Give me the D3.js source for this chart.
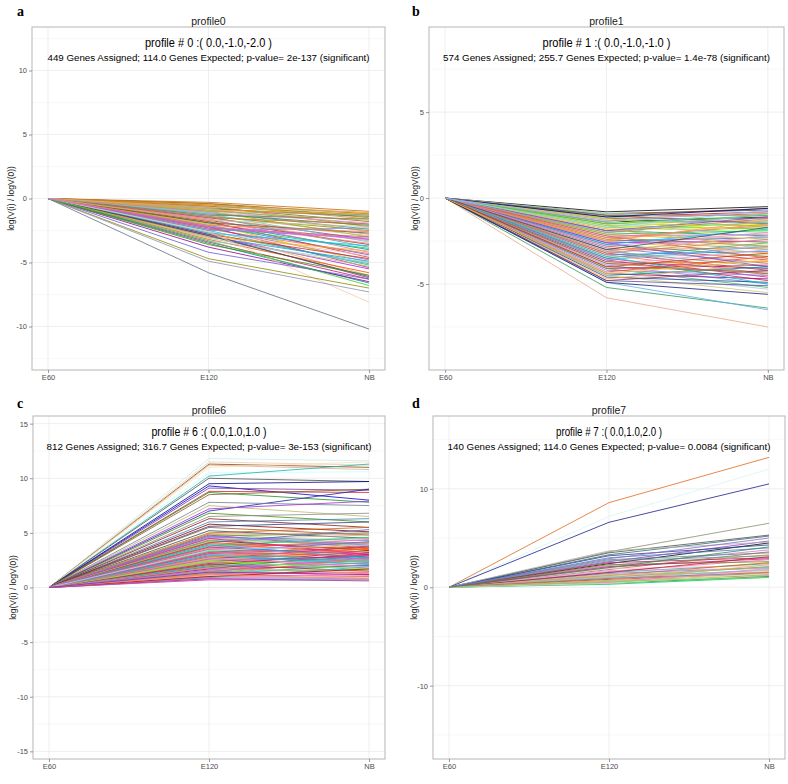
<!DOCTYPE html>
<html>
<head>
<meta charset="utf-8">
<script src="https://cdn.jsdelivr.net/npm/d3@7/dist/d3.min.js"></script>
<style>
  html,body{margin:0;padding:0;background:#fff;}
  text{font-family:"Liberation Sans",Arial,Helvetica,sans-serif;}
</style>
</head>
<body>
<svg id="chart" width="788" height="784"></svg>
<script>
// ---------------- DATA ----------------
const timepoints = ["E60", "E120", "NB"];

// profile0
const p0_E120 = [-0.3,-0.4,-0.5,-0.4,-0.6,-0.7,-0.5,-0.8,-0.9,-0.6,-1.0,-1.1,-0.8,-1.2,-1.3,-1.0,-1.4,-1.5,-1.2,-1.6,-1.7,-1.4,-1.8,-1.9,-1.6,-2.0,-2.1,-1.8,-2.2,-2.3,-2.0,-2.4,-2.5,-2.2,-2.6,-2.7,-2.4,-2.8,-2.9,-2.6,-3.0,-3.1,-2.8,-3.2,-3.3,-1.5,-1.9,-2.3,-2.7,-1.1,-0.9,-1.3,-2.5,-3.4,-3.0,-2.9,-3.5,-3.8,-3.6,-2.6,-4.2,-4.7,-4.9,-5.8,-1.7,-2.1,-0.7,-1.0,-3.3,-2.2];
const p0_NB   = [-1.0,-1.2,-1.1,-1.5,-1.3,-1.8,-1.6,-1.4,-2.0,-2.2,-1.7,-2.4,-2.6,-2.1,-2.8,-3.0,-2.5,-3.2,-3.4,-2.9,-3.6,-3.8,-3.3,-4.0,-4.2,-3.5,-4.4,-4.6,-3.9,-4.8,-5.0,-4.3,-5.2,-5.4,-4.5,-5.1,-3.1,-4.7,-5.5,-6.0,-4.9,-5.3,-6.2,-5.8,-5.0,-2.0,-2.7,-3.0,-3.7,-1.9,-1.2,-1.6,-2.3,-6.3,-4.1,-6.1,-6.6,-6.5,-6.0,-8.1,-6.3,-7.0,-7.3,-10.2,-2.2,-2.6,-1.1,-1.3,-6.8,-3.2];
const p0_colors = ["#CD6600","#8B4513","#DAA520","#B8860B","#6B8E23","#A0522D","#CD853F","#228B22","#708090","#EE7600","#9ACD32","#4682B4","#CDAF95","#2E8B57","#FF69B4","#66CD00","#8B8B00","#C71585","#40E0D0","#DEB887","#B22222","#5F9EA0","#E9967A","#008B8B","#DA70D6","#FA8072","#4169E1","#CD3333","#00CD66","#8968CD","#CDCD00","#FF6347","#20B2AA","#B03060","#FFB6C1","#3CB371","#9370DB","#CD2626","#A020F0","#F4A460","#1E90FF","#BDB76B","#7A378B","#FF4500","#87CEEB","#D2691E","#556B2F","#CD5C5C","#00BFFF","#DDA0DD","#FFA500","#8B7355","#6495ED","#CD1076","#EEB422","#2F4F4F","#00868B","#8B008B","#458B00","#F5CBA7","#6A5ACD","#8B8B00","#8E8EB0","#607080","#CDC673","#FF7F50","#D2B48C","#BC8F8F","#32CD32","#E066FF"];

// profile1
const p1_E120 = [-5.8,-5.2,-4.9,-0.8,-0.9,-1.0,-1.0,-1.1,-1.2,-1.2,-1.3,-1.4,-1.5,-1.5,-1.6,-1.7,-1.7,-1.8,-1.9,-1.9,-2.0,-2.1,-2.1,-2.2,-2.3,-2.3,-2.4,-2.5,-2.5,-2.6,-2.7,-2.7,-2.8,-2.9,-2.9,-3.0,-3.1,-3.1,-3.2,-3.3,-3.3,-3.4,-3.5,-3.5,-3.6,-3.7,-3.7,-3.8,-3.9,-3.9,-4.0,-4.1,-4.1,-4.2,-4.3,-4.3,-4.4,-4.5,-4.5,-4.6,-4.7,-4.8,-4.8,-4.9,-1.3,-1.6,-2.0,-2.4,-1.1,-1.4,-1.8,-2.2,-2.6,-3.0,-3.4,-3.8,-1.2,-2.8,-3.2,-3.6,-4.0,-4.4,-0.9,-1.0,-1.5,-1.9,-2.5,-3.0,-2.0,-1.1,-1.3,-1.7];
const p1_NB   = [-7.5,-6.4,-6.5,-0.5,-0.7,-0.6,-1.0,-0.8,-1.2,-0.9,-1.4,-1.1,-1.6,-1.3,-1.8,-1.5,-2.0,-1.7,-2.2,-1.4,-2.4,-1.9,-2.6,-2.1,-2.8,-1.6,-3.0,-2.3,-3.2,-2.5,-3.4,-1.8,-3.6,-2.7,-3.8,-2.9,-4.0,-2.2,-4.2,-3.1,-4.4,-3.3,-4.6,-2.6,-4.8,-3.5,-4.1,-3.7,-5.0,-3.0,-4.3,-3.9,-5.2,-4.5,-3.4,-5.3,-4.7,-4.0,-5.5,-4.9,-3.8,-5.1,-4.2,-5.6,-2.5,-3.0,-1.2,-1.5,-1.7,-2.3,-2.9,-3.5,-4.0,-4.5,-5.0,-4.4,-2.0,-2.0,-2.4,-2.8,-3.2,-3.6,-1.3,-1.5,-1.0,-1.1,-1.3,-1.7,-0.9,-0.6,-0.8,-0.7];
const p1_colors = ["#E8A98A","#2E9B57","#5CACEE","#000000","#4D4D4D","#8B4513","#708090","#B22222","#6B6B8B","#CD6600","#4682B4","#1A1A1A","#CDCD00","#DAA520","#66CD00","#EEEE00","#9ACD32","#FFD700","#2E8B57","#40E0D0","#BDB76B","#00CD66","#CDAD00","#DA70D6","#8B8B00","#FF69B4","#CD853F","#4169E1","#EEB422","#A020F0","#228B22","#00BFFF","#CD3333","#F0E68C","#8968CD","#FA8072","#5F9EA0","#E9967A","#B03060","#1E90FF","#FF6347","#DEB887","#C71585","#20B2AA","#CD2626","#FFB6C1","#7A378B","#EE7600","#6495ED","#DDA0DD","#A0522D","#CD1076","#3CB371","#9370DB","#FF4500","#B0C4DE","#8B008B","#00868B","#CDC673","#27408B","#FFA54F","#4F4F8F","#8B3A62","#191970","#FFF68F","#9BCD9B","#D2691E","#CD9B1D","#7CCD7C","#87CEEB","#F4A460","#CD5C5C","#6A5ACD","#BC8F8F","#00C5CD","#8B7355","#C0FF3E","#EE82EE","#CD8162","#5CACEE","#CD3700","#FFC125","#B4EEB4","#696969","#32CD32","#9932CC","#FF8C69","#2F4F4F","#8DB6CD","#000080","#CD96CD","#87CEFA"];

// profile6
const p6_E120 = [11.8,11.5,11.3,11.2,11.0,10.5,10.2,10.0,9.5,9.3,9.1,8.8,8.7,8.5,7.0,7.8,7.5,7.2,6.8,6.5,6.3,6.0,5.8,5.6,5.5,5.2,5.0,4.9,4.8,4.7,4.6,4.5,4.4,4.3,4.2,4.1,4.0,3.9,3.8,3.7,3.6,3.5,3.4,3.3,3.2,3.1,3.0,2.9,2.8,2.7,2.6,2.5,2.4,2.3,2.2,2.1,2.0,1.9,1.8,1.7,1.6,1.5,1.4,1.3,1.2,1.1,1.0,0.9,0.8,0.7,0.9,1.1,1.3,1.5,1.7,1.9,2.1,2.3,2.5,2.7,2.9,3.1,3.3,3.5,3.7,3.9,4.1,4.3,4.5,4.7,4.9,1.0,1.2,1.4,1.6,1.8,2.0,2.2,2.4,2.6,2.8,3.0,3.2,3.4,0.8,1.0,0.8,1.2,1.4];
const p6_NB   = [11.6,11.2,11.0,10.8,11.5,10.6,11.3,9.7,9.7,8.0,8.9,8.7,7.8,9.0,9.0,7.5,6.5,7.9,6.0,6.8,5.5,6.3,5.1,6.0,4.8,4.5,5.5,4.0,3.6,5.0,4.3,3.8,4.8,3.4,4.1,5.3,3.2,3.9,4.6,3.0,3.7,4.4,2.8,3.5,4.2,2.6,3.3,4.0,2.4,3.1,3.8,2.2,2.9,3.6,2.0,2.7,3.4,1.8,2.5,3.2,1.6,2.3,3.0,1.4,2.1,2.8,1.2,1.9,1.0,0.7,0.8,1.5,2.6,1.1,2.0,2.9,1.5,2.5,3.3,1.9,2.7,3.7,2.3,3.1,4.1,2.7,3.5,4.5,3.0,3.9,4.9,0.9,1.0,1.7,2.7,1.3,2.2,3.0,1.7,2.6,3.5,2.1,2.9,3.9,1.3,1.7,0.6,0.8,1.2];
const p6_colors = ["#BFEFEF","#F5CBA7","#8B4513","#D2B48C","#FFDAB9","#C1FFFF","#20B2AA","#4D4D4D","#00008B","#0000CD","#7A378B","#CD2626","#228B22","#8B5A2B","#1C1CB0","#708090","#BDB76B","#9932CC","#458B00","#8B8989","#8B1A1A","#4682B4","#8B0000","#27408B","#A0522D","#2F4F4F","#CD6600","#7CCD7C","#B03060","#6B8E23","#8968CD","#5F9EA0","#CDAF95","#000000","#9ACD32","#3A5FCD","#CD3333","#DEB887","#00CD66","#8B008B","#EE7600","#FF69B4","#66CD00","#CD853F","#4169E1","#FF6347","#DA70D6","#E9967A","#00868B","#CDCD00","#C71585","#FA8072","#1E90FF","#FF4500","#DDA0DD","#32CD32","#B22222","#87CEEB","#EE3B3B","#8B3A62","#40E0D0","#CD5C5C","#9370DB","#FF3030","#3CB371","#EE6AA7","#CD1076","#00C5CD","#E066FF","#D02090","#6495ED","#FFB6C1","#CD9B1D","#FF7F50","#A020F0","#2E8B57","#CD3700","#8DB6CD","#EEB422","#FF82AB","#7B68EE","#CD4F39","#43CD80","#BA55D3","#CD6090","#00B2EE","#EE4000","#9BCD9B","#FF1493","#8470FF","#CD8162","#CDC673","#FF6A6A","#48D1CC","#CD69C9","#EE9A49","#5CACEE","#DC143C","#7FFF00","#9F79EE","#EE7942","#00CED1","#FF34B3","#B0E0E6","#FF83FA","#CD0000","#8B4789","#E9967A","#7D26CD"];

// profile7
const p7_E120 = [8.6,7.2,6.6,3.6,3.5,3.3,2.6,2.4,3.0,2.2,2.8,2.0,2.5,1.8,1.6,2.3,1.5,1.9,1.2,1.4,1.7,1.0,1.1,1.3,0.9,0.8,0.7,0.6,0.5,0.4,0.3,0.5,0.7,1.0,2.1,2.7,3.2,1.5,1.2,0.9,0.4,0.6,3.7,2.9,2.0];
const p7_NB   = [13.2,12.0,10.5,6.5,5.3,5.2,4.7,4.5,4.0,3.8,3.5,3.3,3.0,3.6,2.8,2.6,2.4,2.2,2.5,2.0,1.9,2.1,1.7,1.5,1.8,1.4,1.2,1.6,1.3,1.1,1.0,1.9,2.3,1.3,2.9,3.2,4.3,3.1,2.0,1.5,1.4,1.0,4.6,5.0,4.1];
const p7_colors = ["#E06A1B","#D6F5F5","#1C1C8B","#8B8B6B","#4D4D4D","#2F6F6F","#9932CC","#000000","#4682B4","#DA70D6","#708090","#CD853F","#B03060","#8B7355","#FF69B4","#6B8E23","#20B2AA","#FFB6C1","#CD6600","#9370DB","#DDA0DD","#3CB371","#E9967A","#CDAF95","#40E0D0","#8B4513","#FA8072","#DEB887","#66CD00","#228B22","#00CD66","#EE82EE","#F4A460","#87CEEB","#C71585","#5F9EA0","#27408B","#B22222","#BDB76B","#CD5C5C","#FFDAB9","#7CCD7C","#B0B0B0","#8968CD","#2E8B57"];

// ---------------- LAYOUT ----------------
const panels = [
  {letter:"a", lx:17, ly:16, title:"profile0", line1:"profile # 0 :( 0.0,-1.0,-2.0 )", line2:"449 Genes Assigned; 114.0 Genes Expected; p-value= 2e-137 (significant)",
   l1w:127, l2w:322, left:32, right:385, top:27, bottom:370, ydom:[-13.4,13.4], yticks:[-10,-5,0,5,10], ylabX:12,
   e120:p0_E120, nb:p0_NB, colors:p0_colors},
  {letter:"b", lx:412, ly:16, title:"profile1", line1:"profile # 1 :( 0.0,-1.0,-1.0 )", line2:"574 Genes Assigned; 255.7 Genes Expected; p-value= 1.4e-78 (significant)",
   l1w:128, l2w:327, left:429, right:784, top:27, bottom:370, ydom:[-10.0,9.95], yticks:[-5,0,5], ylabX:416,
   e120:p1_E120, nb:p1_NB, colors:p1_colors},
  {letter:"c", lx:17, ly:408, title:"profile6", line1:"profile # 6 :( 0.0,1.0,1.0 )", line2:"812 Genes Assigned; 316.7 Genes Expected; p-value= 3e-153 (significant)",
   l1w:115, l2w:325, left:33, right:385, top:416, bottom:759, ydom:[-15.7,15.7], yticks:[-15,-10,-5,0,5,10,15], ylabX:14,
   e120:p6_E120, nb:p6_NB, colors:p6_colors},
  {letter:"d", lx:412, ly:408, title:"profile7", line1:"profile # 7 :( 0.0,1.0,2.0 )", line2:"140 Genes Assigned; 114.0 Genes Expected; p-value= 0.0084 (significant)",
   l1w:106, l2w:323, left:433, right:785, top:416, bottom:759, ydom:[-17.45,17.4], yticks:[-10,0,10], ylabX:415,
   e120:p7_E120, nb:p7_NB, colors:p7_colors}
];

const svg = d3.select("#chart");

panels.forEach(p => {
  const g = svg.append("g");
  const x = d3.scalePoint().domain(timepoints).range([p.left, p.right]).padding(0.1);
  const y = d3.scaleLinear().domain(p.ydom).range([p.bottom, p.top]);

  g.append("rect").attr("x", p.left).attr("y", p.top)
    .attr("width", p.right - p.left).attr("height", p.bottom - p.top)
    .attr("fill", "#fff");

  // minor grid
  const step = p.yticks[1] - p.yticks[0];
  const minor = [];
  for (let v = p.yticks[0] - step / 2; v <= p.ydom[1]; v += step) {
    if (v >= p.ydom[0]) minor.push(v);
  }
  g.selectAll(".minor").data(minor).enter().append("line")
    .attr("x1", p.left).attr("x2", p.right)
    .attr("y1", d => y(d)).attr("y2", d => y(d))
    .attr("stroke", "#f3f3f3").attr("stroke-width", 0.6);

  // major grid
  g.selectAll(".gy").data(p.yticks).enter().append("line")
    .attr("x1", p.left).attr("x2", p.right)
    .attr("y1", d => y(d)).attr("y2", d => y(d))
    .attr("stroke", "#ebebeb").attr("stroke-width", 0.8);
  g.selectAll(".gx").data(timepoints).enter().append("line")
    .attr("y1", p.top).attr("y2", p.bottom)
    .attr("x1", d => x(d)).attr("x2", d => x(d))
    .attr("stroke", "#ebebeb").attr("stroke-width", 0.8);

  // lines
  const line = d3.line().x(d => x(d.t)).y(d => y(d.v));
  const series = p.e120.map((v, i) => ({
    color: p.colors[i % p.colors.length],
    pts: [{t: timepoints[0], v: 0}, {t: timepoints[1], v: v}, {t: timepoints[2], v: p.nb[i]}]
  }));
  g.selectAll(".ln").data(series).enter().append("path")
    .attr("d", d => line(d.pts))
    .attr("fill", "none")
    .attr("stroke", d => d.color)
    .attr("stroke-width", 0.8);

  // border
  g.append("rect").attr("x", p.left).attr("y", p.top)
    .attr("width", p.right - p.left).attr("height", p.bottom - p.top)
    .attr("fill", "none").attr("stroke", "#b5b5b5").attr("stroke-width", 1);

  // axes
  const yAxis = d3.axisLeft(y).tickValues(p.yticks).tickSize(3).tickPadding(2).tickFormat(d3.format("d"));
  const ya = g.append("g").attr("transform", `translate(${p.left},0)`).call(yAxis);
  const xAxis = d3.axisBottom(x).tickSize(3).tickPadding(2);
  const xa = g.append("g").attr("transform", `translate(0,${p.bottom})`).call(xAxis);
  [ya, xa].forEach(a => {
    a.select(".domain").remove();
    a.selectAll(".tick line").attr("stroke", "#7f7f7f").attr("stroke-width", 0.8);
    a.selectAll(".tick text").attr("fill", "#4d4d4d")
      .style("font-family", "'Liberation Sans', Arial, sans-serif").style("font-size", "7.5px");
  });
  ya.selectAll(".tick text").text(d => d < 0 ? "-" + Math.abs(d) : String(d));

  // y label
  g.append("text")
    .attr("transform", `translate(${p.ylabX},${(p.top + p.bottom) / 2}) rotate(-90)`)
    .attr("text-anchor", "middle").attr("dominant-baseline", "middle")
    .style("font-size", "8.5px").attr("fill", "#1a1a1a")
    .text("log(V(i) / logV(0))");

  const cx = (p.left + p.right) / 2;
  g.append("text").attr("x", cx).attr("y", p.top - 2.5)
    .attr("text-anchor", "middle").style("font-size", "10.5px").attr("fill", "#1a1a1a")
    .text(p.title);
  g.append("text").attr("x", cx).attr("y", p.top + 19.5)
    .attr("text-anchor", "middle").style("font-size", "12px").attr("fill", "#000")
    .attr("textLength", p.l1w).attr("lengthAdjust", "spacingAndGlyphs")
    .text(p.line1);
  g.append("text").attr("x", cx).attr("y", p.top + 33.5)
    .attr("text-anchor", "middle").style("font-size", "9.6px").attr("fill", "#000")
    .attr("textLength", p.l2w).attr("lengthAdjust", "spacingAndGlyphs")
    .text(p.line2);

  g.append("text").attr("x", p.lx).attr("y", p.ly)
    .style("font-family", "'Liberation Serif', 'Times New Roman', serif")
    .style("font-weight", "bold").style("font-size", "14px").attr("fill", "#000")
    .text(p.letter);
});
</script>
</body>
</html>
